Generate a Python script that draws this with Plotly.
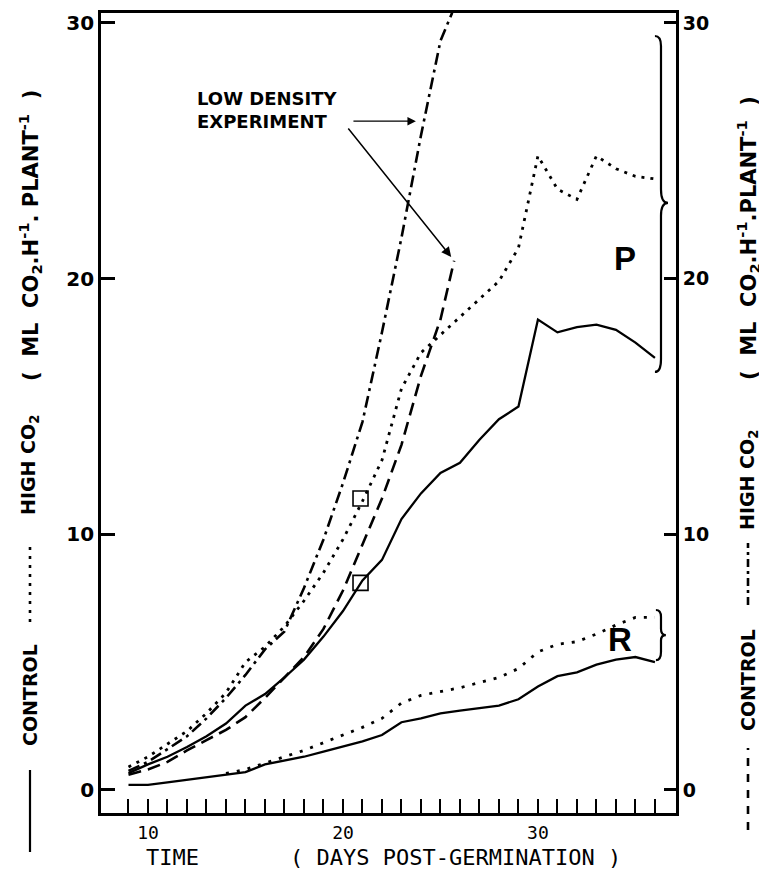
import plotly.graph_objects as go

# ---------------- data ----------------
days = list(range(9, 37))
control_P = [0.66, 1.0, 1.3, 1.68, 2.1, 2.6, 3.3, 3.75, 4.4, 5.1, 6.0, 7.0, 8.2, 9.0,
             10.6, 11.6, 12.4, 12.8, 13.7, 14.5, 15.0, 18.4, 17.9, 18.1, 18.2, 18.0, 17.5, 16.9]
high_P = [0.9, 1.3, 1.8, 2.3, 3.0, 3.8, 5.0, 5.6, 6.4, 7.4, 8.5, 9.8, 11.3, 12.9,
          15.7, 17.1, 17.8, 18.5, 19.2, 19.9, 21.2, 24.8, 23.5, 23.1, 24.8, 24.3, 24.0, 23.9]
control_R = [0.2, 0.2, 0.3, 0.4, 0.5, 0.6, 0.7, 1.0, 1.15, 1.3, 1.5, 1.7, 1.9, 2.15,
             2.65, 2.8, 3.0, 3.1, 3.2, 3.3, 3.55, 4.05, 4.45, 4.6, 4.9, 5.1, 5.2, 5.0]
high_R_days = list(range(14, 37))
high_R = [0.65, 0.8, 1.05, 1.3, 1.55, 1.85, 2.15, 2.45, 2.8, 3.4, 3.7, 3.85, 4.0, 4.2,
          4.4, 4.75, 5.4, 5.7, 5.8, 6.1, 6.45, 6.75, 6.75]
ld_control_days = list(range(9, 26)) + [25.7]
ld_control = [0.6, 0.8, 1.1, 1.55, 1.95, 2.35, 2.85, 3.6, 4.4, 5.2, 6.3, 7.8, 9.6, 11.4,
              13.5, 16.2, 18.4, 20.7]
ld_high_days = list(range(9, 26)) + [25.6]
ld_high = [0.75, 1.1, 1.6, 2.1, 2.8, 3.6, 4.5, 5.5, 6.2, 7.9, 9.8, 12.0, 14.4, 17.9,
           21.6, 25.6, 29.3, 30.4]
square_days = [20.9, 20.9]
square_vals = [11.4, 8.1]

x_major_ticks = [10, 20, 30]
x_minor_ticks = [d for d in range(9, 37) if d not in x_major_ticks]
y_tick_vals = [0, 10, 20, 30]
y_tick_text = ["0", "10", "20", "30"]

X_RANGE = [7.59, 37.08]
Y_RANGE = [-0.9, 30.39]

BLACK = "black"
fig = go.Figure()

def line_trace(x, y, dash, width):
    return go.Scatter(x=x, y=y, mode="lines", showlegend=False, hoverinfo="skip",
                      line=dict(color=BLACK, width=width, dash=dash))

fig.add_trace(line_trace(days, control_P, "solid", 2.3))
fig.add_trace(line_trace(days, high_P, "3px,6px", 2.8))
fig.add_trace(line_trace(ld_control_days, ld_control, "13px,7px", 2.6))
fig.add_trace(line_trace(ld_high_days, ld_high, "12px,5px,3px,5px", 2.6))
fig.add_trace(line_trace(days, control_R, "solid", 2.3))
fig.add_trace(line_trace(high_R_days, high_R, "3px,8px", 2.8))
fig.add_trace(go.Scatter(x=square_days, y=square_vals, mode="markers", showlegend=False,
                         marker=dict(symbol="square-open", size=15, color=BLACK,
                                     line=dict(width=1.6, color=BLACK))))
# invisible trace so that the right-hand axis is drawn
fig.add_trace(go.Scatter(x=[None], y=[None], yaxis="y2", showlegend=False))

# ---------------- layout geometry ----------------
# the page body adds an 8 px offset; the plot area should sit at x 101..676, y 13..813
OFF = 8
FIG_W, FIG_H = 767 - OFF, 875 - OFF
M_L, M_R, M_T, M_B = 101 - OFF, 767 - 676, 13 - OFF, 875 - 813

def px_x(px):
    return (px - 101) / 575.0

def px_y(py):
    return (813 - py) / 800.0

# ---------------- braces ----------------
brace_P = ("M 36.0,29.49 Q 36.31,29.49 36.31,29.1 L 36.31,23.5 "
           "Q 36.31,22.96 36.67,22.96 Q 36.31,22.96 36.31,22.45 L 36.31,16.85 "
           "Q 36.31,16.35 36.0,16.35")
brace_R = ("M 36.05,7.04 Q 36.31,7.04 36.31,6.77 L 36.31,6.3 "
           "Q 36.31,6.06 36.56,6.06 Q 36.31,6.06 36.31,5.85 L 36.31,5.4 "
           "Q 36.31,5.08 36.05,5.08")
shapes = [
    dict(type="path", path=brace_P, xref="x", yref="y", line=dict(color=BLACK, width=2.2)),
    dict(type="path", path=brace_R, xref="x", yref="y", line=dict(color=BLACK, width=2.2)),
    # legend samples on the side titles
    dict(type="line", xref="paper", yref="paper", x0=px_x(30), x1=px_x(30),
         y0=px_y(852), y1=px_y(770), line=dict(color=BLACK, width=2.2)),
    dict(type="line", xref="paper", yref="paper", x0=px_x(30), x1=px_x(30),
         y0=px_y(622), y1=px_y(545), line=dict(color=BLACK, width=2.6, dash="3px,6px")),
    dict(type="line", xref="paper", yref="paper", x0=px_x(748), x1=px_x(748),
         y0=px_y(830), y1=px_y(748), line=dict(color=BLACK, width=2.6, dash="8px,8px")),
    dict(type="line", xref="paper", yref="paper", x0=px_x(748), x1=px_x(748),
         y0=px_y(605), y1=px_y(543), line=dict(color=BLACK, width=2.6, dash="8px,4px,3px,4px")),
]

side_font = dict(family="DejaVu Sans", size=19, color=BLACK, weight="bold")
unit_font = dict(family="DejaVu Sans", size=21, color=BLACK, weight="bold")

def side_text(text, px, py, font=side_font):
    return dict(text=text, x=px_x(px), y=px_y(py), xref="paper", yref="paper",
                xanchor="center", yanchor="middle", textangle=-90, showarrow=False,
                font=font)

NB = "\u00a0"
annotations = [
    side_text("CONTROL", 30, 695),
    side_text("HIGH CO<sub>2</sub>", 30, 465),
    side_text("(" + NB + " ML " + NB + "CO<sub>2</sub>.H<sup>-1</sup>. PLANT<sup>-1</sup>" + NB + " )",
              30, 236, unit_font),
    side_text("CONTROL", 748, 680),
    side_text("HIGH CO<sub>2</sub>", 748, 480),
    side_text("(" + NB + " ML " + NB + "CO<sub>2</sub>.H<sup>-1</sup>.PLANT<sup>-1</sup>" + NB + " )",
              748, 238, unit_font),
    # x title
    dict(text="TIME", x=px_x(172), y=px_y(858), xref="paper", yref="paper",
         xanchor="center", yanchor="middle", showarrow=False,
         font=dict(family="DejaVu Sans Mono", size=22, color=BLACK)),
    dict(text="( DAYS POST-GERMINATION )", x=px_x(455), y=px_y(858), xref="paper", yref="paper",
         xanchor="center", yanchor="middle", showarrow=False,
         font=dict(family="DejaVu Sans Mono", size=22, color=BLACK)),
    # in-plot labels
    dict(text="LOW DENSITY<br>EXPERIMENT", x=12.41, y=26.6, xref="x", yref="y",
         xanchor="left", yanchor="middle", align="left", showarrow=False,
         font=dict(family="DejaVu Sans", size=18, color=BLACK, weight="bold")),
    dict(text="", x=23.74, y=26.16, ax=20.46, ay=26.16, xref="x", yref="y",
         axref="x", ayref="y", showarrow=True, arrowhead=2, arrowsize=1.3,
         arrowwidth=1.3, arrowcolor=BLACK),
    dict(text="", x=25.55, y=20.85, ax=20.21, ay=25.93, xref="x", yref="y",
         axref="x", ayref="y", showarrow=True, arrowhead=2, arrowsize=1.3,
         arrowwidth=1.5, arrowcolor=BLACK),
    dict(text="P", x=34.46, y=20.8, xref="x", yref="y", showarrow=False,
         font=dict(family="Liberation Sans", size=33, color=BLACK, weight="bold")),
    dict(text="R", x=34.2, y=5.9, xref="x", yref="y", showarrow=False,
         font=dict(family="Liberation Sans", size=33, color=BLACK, weight="bold")),
]

fig.update_layout(
    width=FIG_W, height=FIG_H,
    margin=dict(l=M_L, r=M_R, t=M_T, b=M_B, autoexpand=False),
    paper_bgcolor="white", plot_bgcolor="white",
    showlegend=False,
    shapes=shapes, annotations=annotations,
    xaxis=dict(range=X_RANGE, showgrid=False, zeroline=False,
               showline=True, linewidth=2.6, linecolor=BLACK, mirror=True,
               ticks="inside", ticklen=14, tickwidth=2, tickcolor=BLACK,
               tickmode="array", tickvals=x_major_ticks,
               ticktext=[str(v) for v in x_major_ticks], ticklabelstandoff=2,
               minor=dict(ticks="inside", ticklen=14, tickwidth=2, tickcolor=BLACK,
                          tickmode="array", tickvals=x_minor_ticks, showgrid=False),
               tickfont=dict(family="DejaVu Sans Mono", size=18, color=BLACK)),
    yaxis=dict(range=Y_RANGE, showgrid=False, zeroline=False,
               showline=True, linewidth=2.8, linecolor=BLACK,
               ticks="inside", ticklen=14, tickwidth=2.5, tickcolor=BLACK,
               tickvals=y_tick_vals, ticktext=y_tick_text,
               tickfont=dict(family="DejaVu Sans", size=20, color=BLACK, weight="bold")),
    yaxis2=dict(range=Y_RANGE, overlaying="y", side="right", showgrid=False, zeroline=False,
                showline=True, linewidth=2.8, linecolor=BLACK,
                ticks="inside", ticklen=12, tickwidth=2.5, tickcolor=BLACK,
                tickvals=y_tick_vals, ticktext=y_tick_text,
                tickfont=dict(family="DejaVu Sans", size=19, color=BLACK, weight="bold")),
)

fig.write_html("out.html")
